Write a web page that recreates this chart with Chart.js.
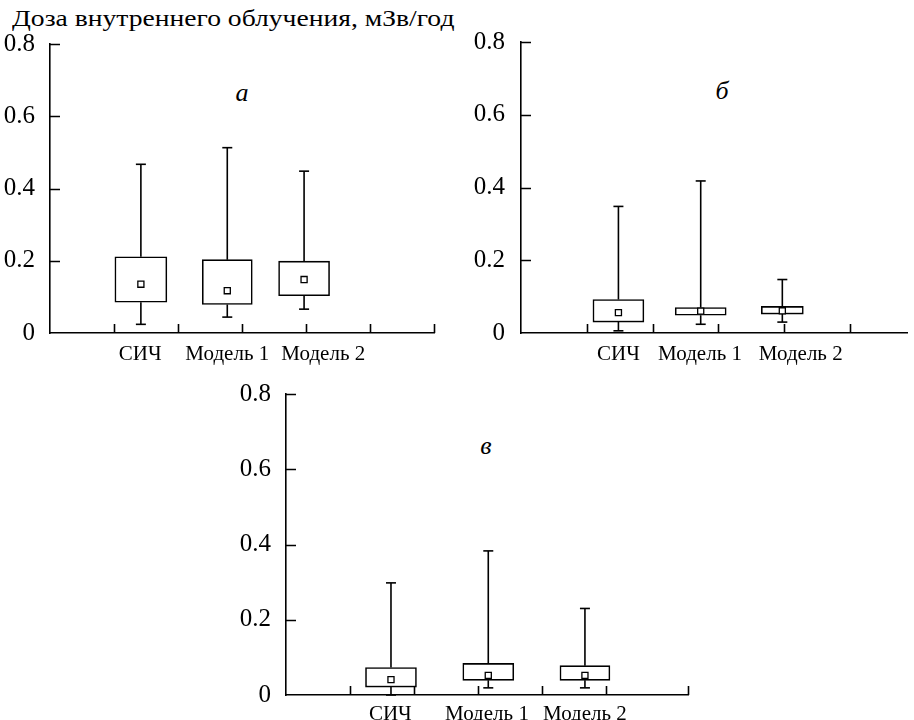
<!DOCTYPE html>
<html lang="ru">
<head>
<meta charset="UTF-8">
<title>Доза внутреннего облучения</title>
<script src="https://cdn.jsdelivr.net/npm/chart.js"></script>
<style>
    body {
        margin: 0;
        background: #fff;
        font-family: "Liberation Serif", "Times New Roman", "DejaVu Serif", serif;
    }
    #wrap {
        position: relative;
        width: 914px;
        height: 720px;
        overflow: hidden;
    }
    canvas {
        position: absolute;
    }
    .title {
        position: absolute;
        left: 12px;
        top: 7px;
        font-size: 23px;
        line-height: 1;
        white-space: nowrap;
        color: #000;
        transform: scaleX(1.2);
        transform-origin: left top;
    }
    .letter {
        position: absolute;
        font-size: 26px;
        font-style: italic;
        line-height: 1;
        transform: translateX(-50%);
        color: #000;
    }
</style>
</head>
<body>
<div id="wrap">
    <div class="title">Доза внутреннего облучения, мЗв/год</div>
    <div class="letter" style="left:242px; top:80px;">а</div>
    <div class="letter" style="left:722px; top:78px;">б</div>
    <div class="letter" style="left:486px; top:433px;">в</div>
    <canvas id="chartA" width="460" height="368" style="left:0; top:0;"></canvas>
    <canvas id="chartB" width="454" height="368" style="left:460px; top:0;"></canvas>
    <canvas id="chartC" width="480" height="360" style="left:220px; top:360px;"></canvas>
</div>

<script>
const SERIF = '"Liberation Serif", "Times New Roman", "DejaVu Serif", serif';

// categories and axis ticks
const categories = ['СИЧ', 'Модель 1', 'Модель 2'];
const yTicks = [0, 0.2, 0.4, 0.6, 0.8];

// panel а
const posA = [1.42, 2.77, 3.97];
const labelPosA = [1.41, 2.77, 4.27];
const lowA = [0.024, 0.044, 0.066];
const q1A = [0.085, 0.079, 0.103];
const meanA = [0.135, 0.117, 0.148];
const q3A = [0.211, 0.203, 0.199];
const highA = [0.467, 0.513, 0.448];
const xMarksA = [1, 2, 3, 4, 5, 6];

// panel б
const posB = [1.48, 2.73, 3.97];
const labelPosB = [1.48, 2.72, 4.25];
const lowB = [0.006, 0.024, 0.030];
const q1B = [0.030, 0.049, 0.052];
const meanB = [0.056, 0.060, 0.061];
const q3B = [0.092, 0.070, 0.073];
const highB = [0.348, 0.418, 0.147];
const xMarksB = [1, 2, 3, 4, 5];

// panel в
const posC = [1.64, 3.16, 4.67];
const labelPosC = [1.63, 3.14, 4.67];
const lowC = [0.0, 0.019, 0.019];
const q1C = [0.021, 0.039, 0.039];
const meanC = [0.041, 0.052, 0.052];
const q3C = [0.073, 0.084, 0.078];
const highC = [0.298, 0.383, 0.230];
const xMarksC = [1, 2, 3, 4, 5, 6.28];

const LW = 1.6;

// inward tick marks on both axes
const inwardTicks = {
    id: 'inwardTicks',
    afterDraw(chart, args, opts) {
        const {ctx, chartArea, scales} = chart;
        ctx.save();
        ctx.strokeStyle = '#000';
        ctx.lineWidth = LW;
        ctx.beginPath();
        yTicks.forEach(v => {
            if (v === 0) return;
            const y = Math.round(scales.y.getPixelForValue(v)) + 0.5;
            ctx.moveTo(chartArea.left, y);
            ctx.lineTo(chartArea.left + 10, y);
        });
        opts.xMarks.forEach(v => {
            const x = Math.round(scales.x.getPixelForValue(v)) + 0.5;
            ctx.moveTo(x, chartArea.bottom);
            ctx.lineTo(x, chartArea.bottom - 9);
        });
        ctx.stroke();
        ctx.restore();
    }
};

function makePanel(id, p) {
    const whiskers = [];
    const caps = [];
    p.pos.forEach((x, i) => {
        whiskers.push({x: x, y: p.low[i]}, {x: x, y: p.q1[i]}, {x: x, y: null});
        whiskers.push({x: x, y: p.q3[i]}, {x: x, y: p.high[i]}, {x: x, y: null});
        caps.push({x: x, y: p.low[i]}, {x: x, y: p.high[i]});
    });

    // one floating bar per box so each can keep its own width
    const boxes = p.pos.map((x, i) => ({
        type: 'bar',
        data: [{x: x, y: [p.q1[i], p.q3[i]]}],
        backgroundColor: '#fff',
        borderColor: '#000',
        borderWidth: LW,
        borderSkipped: false,
        barThickness: p.boxW[i],
        grouped: false,
        order: 3
    }));

    new Chart(document.getElementById(id), {
        data: {
            datasets: [
                {
                    type: 'scatter',
                    data: p.pos.map((x, i) => ({x: x, y: p.mean[i]})),
                    pointStyle: 'rect',
                    pointRadius: 4.3,
                    backgroundColor: '#fff',
                    borderColor: '#000',
                    borderWidth: 1.3,
                    clip: false,
                    order: 0
                },
                {
                    type: 'scatter',
                    data: caps,
                    pointStyle: 'line',
                    pointRadius: 5,
                    borderColor: '#000',
                    borderWidth: LW,
                    clip: false,
                    order: 1
                },
                {
                    type: 'scatter',
                    data: whiskers,
                    showLine: true,
                    spanGaps: false,
                    pointRadius: 0,
                    borderColor: '#000',
                    borderWidth: LW,
                    order: 2
                },
                ...boxes
            ]
        },
        options: {
            responsive: false,
            animation: false,
            devicePixelRatio: 1,
            layout: {padding: p.padding},
            plugins: {
                legend: {display: false},
                tooltip: {enabled: false},
                inwardTicks: {xMarks: p.xMarks}
            },
            scales: {
                x: {
                    type: 'linear',
                    offset: false,
                    min: 0,
                    max: p.xMax,
                    grid: {display: false},
                    border: {display: true, color: '#000', width: LW},
                    afterFit: s => { s.height = p.xHeight; },
                    afterBuildTicks: s => {
                        s.ticks = p.labelPos.map(v => ({value: v}));
                    },
                    ticks: {
                        autoSkip: false,
                        maxRotation: 0,
                        padding: p.xPad,
                        color: '#000',
                        font: {family: SERIF, size: 21},
                        callback: (v, i) => categories[i]
                    }
                },
                y: {
                    min: 0,
                    max: 0.8,
                    grid: {display: false},
                    border: {display: true, color: '#000', width: LW},
                    afterFit: s => { s.width = p.yWidth; },
                    ticks: {
                        stepSize: 0.2,
                        padding: p.yPad,
                        color: '#000',
                        font: {family: SERIF, size: 25},
                        callback: v => v === 0 ? '0' : v.toFixed(1)
                    }
                }
            }
        },
        plugins: [inwardTicks]
    });
}

makePanel('chartA', {
    pos: posA, labelPos: labelPosA, low: lowA, q1: q1A, mean: meanA, q3: q3A, high: highA,
    xMarks: xMarksA, xMax: 6, boxW: [52, 50, 51],
    padding: {left: 0, top: 44, right: 26, bottom: 0},
    yWidth: 50, yPad: 7, xHeight: 35, xPad: 1
});

makePanel('chartB', {
    pos: posB, labelPos: labelPosB, low: lowB, q1: q1B, mean: meanB, q3: q3B, high: highB,
    xMarks: xMarksB, xMax: 5.87, boxW: [51, 51, 42],
    padding: {left: 0, top: 42, right: 0, bottom: 0},
    yWidth: 61, yPad: 8, xHeight: 35, xPad: 1
});

makePanel('chartC', {
    pos: posC, labelPos: labelPosC, low: lowC, q1: q1C, mean: meanC, q3: q3C, high: highC,
    xMarks: xMarksC, xMax: 6.28, boxW: [51, 51, 50],
    padding: {left: 0, top: 34, right: 12, bottom: 0},
    yWidth: 66, yPad: 7, xHeight: 25, xPad: -1
});
</script>
</body>
</html>
